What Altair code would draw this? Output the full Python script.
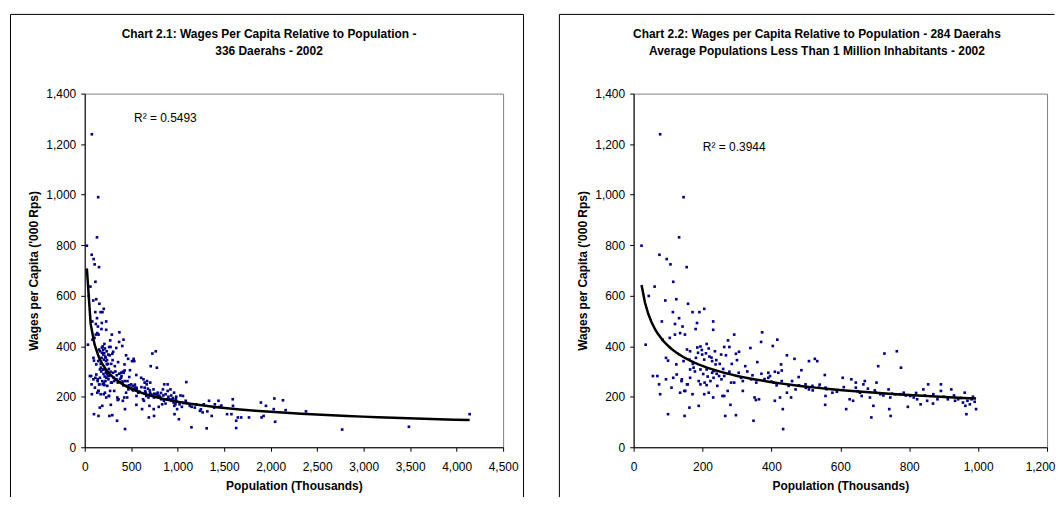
import altair as alt
import pandas as pd

# ---- data (population in thousands, wages per capita in '000 Rps) ----
population = [
    77, 145, 132, 23, 75, 96, 107, 154, 115, 61, 44, 92, 124, 158, 114, 171, 205, 191, 231, 231,
    82, 120, 132, 142, 149, 180, 184, 120, 135, 105, 84, 35, 292, 274, 373, 370, 417, 404, 278, 263,
    306, 339, 194, 212, 218, 236, 220, 254, 268, 297, 155, 164, 187, 199, 94, 100, 124, 145, 162, 181,
    205, 228, 238, 174, 164, 194, 212, 232, 241, 248, 232, 255, 223, 206, 189, 194, 212, 243, 164, 155,
    140, 125, 115, 94, 110, 135, 150, 171, 205, 218, 231, 258, 292, 263, 278, 305, 312, 317, 341, 356,
    324, 359, 371, 391, 391, 396, 410, 420, 430, 428, 445, 467, 487, 509, 526, 533, 555, 407, 430, 450,
    479, 499, 519, 538, 509, 470, 445, 425, 410, 457, 433, 434, 355, 351, 364, 348, 297, 266, 281, 263,
    189, 162, 148, 100, 77, 74, 69, 56, 147, 157, 139, 273, 283, 317, 557, 556, 557, 577, 607, 627,
    637, 617, 632, 645, 645, 662, 667, 671, 657, 686, 690, 696, 703, 705, 710, 728, 740, 742, 746, 759,
    764, 776, 784, 796, 803, 823, 833, 841, 855, 869, 892, 892, 922, 933, 961, 963, 966, 969, 976, 981,
    994, 956, 716, 745, 774, 813, 852, 882, 912, 942,
    185, 198, 210, 226, 240, 250, 172, 178, 202, 215, 228, 260, 285, 300, 330, 345, 380, 400, 415, 460,
    480, 500, 520, 540, 560, 590, 610, 650, 680, 700, 725, 750, 790, 820, 845, 870, 900, 930, 950, 990,
    985,
    1093, 1057, 1020, 1013, 1086, 1130, 1148, 1184, 1239, 1268, 1312, 1319, 1337, 1366, 1392, 1439, 1450, 1531, 1578, 1592,
    1595, 1629, 1629, 1647, 1683, 1767, 1895, 1902, 1924, 1949, 2040, 2048, 2033, 2132, 2161, 2380, 2769, 3487, 4140,
    1030, 1045, 1060, 1100, 1150, 1200, 1250, 1280, 1400, 1470,
]
wages = [
    1239, 990, 831, 798, 762, 745, 724, 713, 655, 636, 599, 581, 586, 568, 535, 535, 548, 535, 498, 465,
    498, 488, 511, 478, 446, 468, 492, 446, 452, 433, 426, 406, 446, 423, 455, 417, 426, 401, 397, 397,
    378, 393, 399, 409, 391, 380, 359, 367, 364, 370, 387, 380, 374, 367, 354, 343, 328, 341, 347, 354,
    347, 341, 328, 315, 308, 308, 308, 302, 291, 282, 275, 269, 262, 256, 262, 249, 246, 243, 275, 249,
    269, 288, 275, 269, 236, 216, 223, 210, 210, 216, 197, 203, 256, 282, 299, 295, 275, 262, 269, 256,
    321, 337, 291, 275, 295, 282, 299, 295, 304, 328, 364, 350, 305, 341, 350, 341, 286, 256, 262, 243,
    278, 249, 243, 236, 229, 229, 216, 197, 184, 197, 151, 72, 187, 197, 190, 105, 127, 124, 168, 203,
    164, 157, 124, 131, 210, 249, 282, 282, 223, 249, 262, 223, 256, 223, 203, 168, 236, 216, 275, 190,
    184, 151, 269, 256, 236, 203, 249, 262, 216, 197, 118, 164, 216, 256, 321, 371, 229, 151, 124, 210,
    380, 315, 216, 160, 203, 190, 170, 229, 249, 173, 249, 223, 229, 184, 216, 164, 131, 184, 170, 190,
    151, 177, 210, 197, 210, 197, 184, 190, 190, 190,
    395, 385, 372, 355, 345, 330, 330, 300, 290, 280, 295, 310, 330, 345, 300, 285, 270, 260, 245, 262,
    245, 235, 225, 248, 230, 220, 238, 222, 232, 225, 205, 212, 205, 215, 205, 210, 200, 205, 195, 180,
    200,
    258, 203, 170, 111, 184, 164, 79, 157, 144, 138, 75, 142, 184, 124, 157, 184, 160, 131, 131, 190,
    164, 76, 105, 118, 118, 118, 177, 118, 124, 164, 193, 101, 151, 186, 147, 142, 70, 81, 131,
    205, 160, 175, 175, 160, 170, 150, 170, 170, 165,
]

titles_1 = ["Chart 2.1: Wages Per Capita Relative to Population -", "336 Daerahs - 2002"]
titles_2 = ["Chart 2.2: Wages per Capita Relative to Population - 284 Daerahs",
            "Average Populations Less Than 1 Million Inhabitants - 2002"]
r2_labels = ["R\u00b2 = 0.5493", "R\u00b2 = 0.3944"]
x_ticks_1 = [0, 500, 1000, 1500, 2000, 2500, 3000, 3500, 4000, 4500]
x_ticks_2 = [0, 200, 400, 600, 800, 1000, 1200]
y_ticks = [0, 200, 400, 600, 800, 1000, 1200, 1400]

x_title = "Population (Thousands)"
y_title = "Wages per Capita ('000 Rps)"

df = pd.DataFrame({"pop": population, "wage": wages})

FONT = "Liberation Sans"
NAVY = "#000080"
H = 355


def panel(data, xmax, xticks, titles, r2, r2x, r2y, w, title_cx, frame_right,
          right_edge=True, filt=None, last_flush=None):
    base = alt.Chart(data)
    if filt is not None:
        base = base.transform_filter(filt)
    axis_kw = dict(values=xticks, format=",.0f", title=x_title, labelFlush=False)
    if last_flush is not None:
        test = "datum.value === %d" % last_flush
        axis_kw["labelAlign"] = {"condition": {"test": test, "value": "right"}, "value": "center"}
        axis_kw["labelOffset"] = {"condition": {"test": test, "value": 8}, "value": 0}
    x = alt.X("pop:Q", scale=alt.Scale(domain=[0, xmax], nice=False),
              axis=alt.Axis(**axis_kw))
    y = alt.Y("wage:Q", scale=alt.Scale(domain=[0, 1400], nice=False),
              axis=alt.Axis(values=y_ticks, format=",.0f", title=y_title, labelFlush=False))
    pts = base.mark_square(size=7, color=NAVY, opacity=1).encode(x=x, y=y)
    trend = base.transform_regression("pop", "wage", method="pow").mark_line(
        color="black", strokeWidth=2.5).encode(x=x, y=y)
    one = alt.Chart(alt.Data(values=[{}]))
    rule_style = dict(color="black", strokeWidth=1)
    left = one.mark_rule(**rule_style).encode(
        x=alt.value(-74.5), y=alt.value(-79.5), y2=alt.value(405))
    top = one.mark_rule(**rule_style).encode(
        x=alt.value(-74.5), x2=alt.value(frame_right), y=alt.value(-79.5))
    layers = [pts, trend, left, top]
    if right_edge:
        layers.append(one.mark_rule(**rule_style).encode(
            x=alt.value(frame_right), y=alt.value(-79.5), y2=alt.value(405)))
    for i, ty in enumerate([-60, -43]):
        layers.append(one.mark_text(font=FONT, fontSize=12, fontWeight="bold", align="center",
                                    baseline="middle", color="black").encode(
            x=alt.value(title_cx), y=alt.value(ty), text=alt.value(titles[i])))
    layers.append(one.mark_text(font=FONT, fontSize=12, align="left", baseline="middle",
                                color="black").encode(
        x=alt.value(r2x), y=alt.value(r2y), text=alt.value(r2)))
    return alt.layer(*layers).properties(width=w, height=H)


p1 = panel(df, 4500, x_ticks_1, titles_1, r2_labels[0], 49.5, 24, 420, 185, 440.5)
p2 = panel(df, 1200, x_ticks_2, titles_2, r2_labels[1], 69.5, 54, 415, 184, 422.5,
           right_edge=False, filt=alt.datum["pop"] < 1000, last_flush=1200)

chart = alt.hconcat(p1, p2, spacing=33).properties(
    padding={"left": 1, "top": 4, "right": 0, "bottom": 0}
).configure_view(stroke="#808080", strokeWidth=1).configure_axis(
    grid=False, domainColor="black", domainWidth=1, tickColor="black", tickSize=4,
    labelFont=FONT, labelFontSize=12, labelColor="black",
    titleFont=FONT, titleFontSize=12, titleFontWeight="bold", titleColor="black",
).configure_axisX(labelPadding=10, titlePadding=8).configure_axisY(
    labelPadding=5, titlePadding=5)

chart.save("out.html", embed_options={"renderer": "svg", "actions": False})
